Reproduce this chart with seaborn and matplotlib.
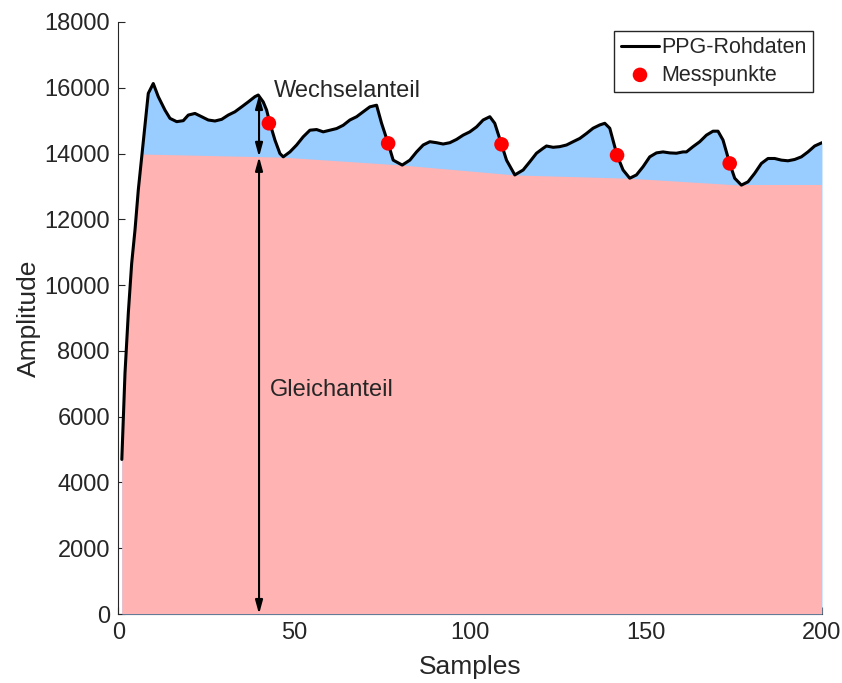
import matplotlib
matplotlib.use("Agg")
import matplotlib.pyplot as plt
import seaborn as sns

# PPG-Rohdaten
sample = [1, 1.9, 2.84, 3.8, 4.74, 5.68, 8.52, 9.94, 11.36, 13.27, 14.69, 16.59,
          18.47, 19.89, 21.79, 23.69, 25.57, 27.47, 29.38, 31.25, 33.15, 35.06,
          36.93, 38.84, 39.77, 41.19, 42.16, 43.1, 44.52, 45.94, 46.88, 48.78,
          50.68, 52.56, 54.46, 56.36, 58.24, 60.14, 62.05, 63.92, 65.82, 67.73,
          69.6, 71.5, 73.41, 74.83, 76.7, 78.13, 80.7, 82.87, 84.77, 86.65,
          88.55, 90.45, 92.33, 94.23, 96.14, 98.01, 99.91, 101.82, 103.69, 105.6,
          107.0, 108.92, 110.34, 112.7, 115.06, 116.96, 118.86, 120.74, 121.7,
          123.58, 125.48, 127.39, 129.26, 131.17, 133.07, 134.94, 136.85, 138.27,
          139.69, 141.76, 143.47, 145.37, 147.27, 149.15, 151.05, 152.95, 154.83,
          156.73, 158.64, 160.51, 161.48, 163.35, 165.26, 167.16, 169.03, 170.45,
          171.88, 173.78, 175.2, 177.1, 178.98, 180.88, 182.78, 184.66, 186.56,
          188.47, 190.34, 192.24, 194.15, 196.02, 197.93, 200]
amplitude = [4700, 7320, 9140, 10660, 11670, 12890, 15830, 16130, 15730, 15320,
             15070, 14970, 15000, 15170, 15220, 15120, 15020, 14990, 15040, 15170,
             15270, 15420, 15570, 15730, 15780, 15570, 15320, 14920, 14410, 14000,
             13900, 14050, 14260, 14510, 14710, 14730, 14660, 14710, 14760, 14860,
             15020, 15120, 15270, 15420, 15470, 14920, 14310, 13800, 13650, 13800,
             14050, 14260, 14360, 14330, 14290, 14330, 14430, 14560, 14660, 14810,
             15020, 15120, 14920, 14280, 13800, 13350, 13500, 13750, 14010, 14160,
             14230, 14190, 14210, 14260, 14360, 14460, 14610, 14770, 14870, 14920,
             14770, 13950, 13500, 13250, 13350, 13600, 13900, 14020, 14050, 14020,
             14010, 14050, 14050, 14210, 14360, 14560, 14680, 14680, 14410, 13700,
             13250, 13040, 13140, 13400, 13700, 13850, 13850, 13800, 13780, 13820,
             13900, 14050, 14230, 14330]

# Gleichanteil (Basislinie durch die Minima)
dc_sample = [1, 46.88, 80.7, 112.7, 145.37, 177.1, 200]
dc_level = [14000, 13890, 13650, 13350, 13250, 13040, 13040]

# Messpunkte
mess_sample = [42.8, 76.7, 108.92, 141.76, 173.78]
mess_amp = [14920, 14310, 14280, 13950, 13700]

arrow_x = 40
ac_top = 15780
dc_top = 13900

sns.set_style("ticks")
plt.rcParams["font.family"] = ["Liberation Sans", "DejaVu Sans"]
plt.rcParams["axes.edgecolor"] = "#262626"
plt.rcParams["xtick.color"] = "#262626"
plt.rcParams["ytick.color"] = "#262626"

fig = plt.figure(figsize=(8.42, 6.83), dpi=100)
ax = fig.add_axes([0.1405, 0.101, 0.8357, 0.8668])

blue = ax.fill_between(sample, 0, amplitude, color="#99ccff", lw=0, zorder=1)
pink = ax.fill_between(dc_sample, 0, dc_level, color="#ffb3b3", lw=0, zorder=1.5)
pink.set_clip_path(blue.get_paths()[0], ax.transData)

sns.lineplot(x=sample, y=amplitude, color="black", linewidth=2.2, sort=False,
             estimator=None, label="PPG-Rohdaten", ax=ax, zorder=4)
sns.scatterplot(x=mess_sample, y=mess_amp, color="red", s=110, edgecolor="none",
                label="Messpunkte", ax=ax, zorder=5)

arrow = dict(arrowstyle="<|-|>,head_length=0.8,head_width=0.22", color="black",
             lw=1.5, shrinkA=0, shrinkB=0)
ax.annotate("", xy=(arrow_x, dc_top), xytext=(arrow_x, ac_top), arrowprops=arrow, zorder=6)
ax.annotate("", xy=(arrow_x, 0), xytext=(arrow_x, dc_top), arrowprops=arrow, zorder=6)
ax.text(44.2, 15900, "Wechselanteil", fontsize=17, va="center", ha="left")
ax.text(43.1, 6810, "Gleichanteil", fontsize=17, va="center", ha="left")

ax.set_xlim(0, 200)
ax.set_ylim(0, 18000)
ax.set_xticks([0, 50, 100, 150, 200])
ax.set_yticks(range(0, 18001, 2000))
ax.tick_params(direction="in", length=5, width=0.8, labelsize=17, pad=6)
ax.set_xlabel("Samples", fontsize=19, color="#262626", labelpad=8)
ax.set_ylabel("Amplitude", fontsize=19, color="#262626", labelpad=2)
ax.set_axisbelow(True)
for side in ["top", "right"]:
    ax.spines[side].set_visible(False)
ax.spines["bottom"].set_zorder(0.5)
ax.spines["left"].set_linewidth(0.8)
ax.spines["bottom"].set_linewidth(0.8)

ax.legend(loc="upper right", fontsize=15.5, frameon=True, fancybox=False,
          edgecolor="#262626", framealpha=1, handlelength=1.8, handletextpad=0.1,
          borderaxespad=0.4, labelspacing=0.3, borderpad=0.3)

fig.savefig("out.png", dpi=100)
